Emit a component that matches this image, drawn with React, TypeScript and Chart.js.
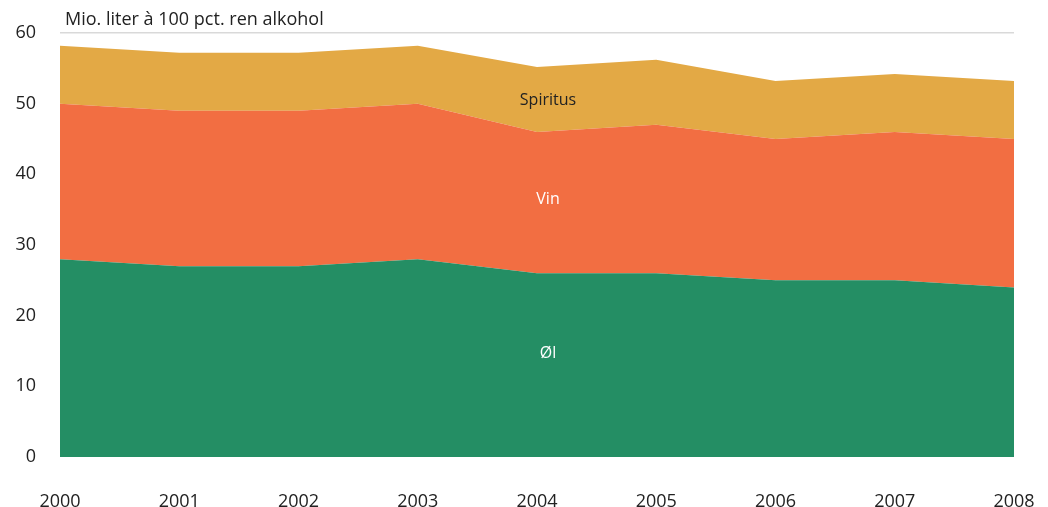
import React, { useEffect, useRef } from "react";
import { Chart, registerables } from "chart.js";

Chart.register(...registerables);

const years = ["2000", "2001", "2002", "2003", "2004", "2005", "2006", "2007", "2008"];
const oel = [28, 27, 27, 28, 26, 26, 25, 25, 24];
const vin = [22, 22, 22, 22, 20, 21, 20, 21, 21];
const spiritus = [8.2, 8.2, 8.2, 8.2, 9.2, 9.2, 8.2, 8.2, 8.2];
const yTicks = [0, 10, 20, 30, 40, 50, 60];
const unitLabel = "Mio. liter à 100 pct. ren alkohol";

const FONT = "'Open Sans', sans-serif";

const labelPlugin = {
  id: "areaLabels",
  afterDatasetsDraw(chart: any) {
    const { ctx, scales } = chart;
    const x = scales.x.getPixelForValue(4) + 11;
    ctx.save();
    ctx.font = `16px ${FONT}`;
    ctx.textAlign = "center";
    ctx.textBaseline = "middle";
    ctx.fillStyle = "#222";
    ctx.fillText("Spiritus", x, scales.y.getPixelForValue(50.5));
    ctx.fillStyle = "#fff";
    ctx.fillText("Vin", x, scales.y.getPixelForValue(36.5));
    ctx.fillText("Øl", x, scales.y.getPixelForValue(14.6));
    ctx.fillStyle = "#222";
    ctx.textAlign = "left";
    ctx.font = `18px ${FONT}`;
    ctx.fillText(unitLabel, scales.x.left + 5, 20);
    ctx.restore();
  },
};

export default function App() {
  const ref = useRef<HTMLCanvasElement>(null);
  useEffect(() => {
    if (!ref.current) return;
    const chart = new Chart(ref.current, {
      type: "line",
      data: {
        labels: years,
        datasets: [
          { label: "Øl", data: oel, backgroundColor: "#248E64", borderWidth: 0, pointRadius: 0, fill: "origin", tension: 0 },
          { label: "Vin", data: vin, backgroundColor: "#F26E42", borderWidth: 0, pointRadius: 0, fill: "-1", tension: 0 },
          { label: "Spiritus", data: spiritus, backgroundColor: "#E3A945", borderWidth: 0, pointRadius: 0, fill: "-1", tension: 0 },
        ],
      },
      options: {
        responsive: false,
        animation: false,
        layout: { padding: { top: 33, right: 34, left: 0, bottom: 0 } },
        plugins: { legend: { display: false }, tooltip: { enabled: false } },
        scales: {
          x: {
            offset: false,
            grid: { display: false },
            border: { display: false },
            ticks: { color: "#222", font: { family: FONT, size: 18 }, padding: 26, maxRotation: 0, autoSkip: false },
            afterFit: (s: any) => { s.height = 50; s.paddingLeft = 0; s.paddingRight = 0; },
          },
          y: {
            stacked: true,
            min: 0,
            max: 60,
            afterBuildTicks: (s: any) => { s.ticks = yTicks.map((v) => ({ value: v })); },
            grid: {
              drawTicks: false,
              color: (c: any) => (c.tick && c.tick.value === 60 ? "#d9d9d9" : "rgba(0,0,0,0)"),
              lineWidth: 1.5,
            },
            border: { display: false },
            ticks: { color: "#222", font: { family: FONT, size: 18 }, padding: 24 },
            afterFit: (s: any) => { s.width = 60; s.paddingTop = 0; s.paddingBottom = 0; },
          },
        },
      },
      plugins: [labelPlugin],
    });
    return () => chart.destroy();
  }, []);
  return (
    <div style={{ position: "absolute", left: 0, top: 0, width: 1048, height: 507, background: "#fff" }}>
      <canvas ref={ref} width={1048} height={507} />
    </div>
  );
}
